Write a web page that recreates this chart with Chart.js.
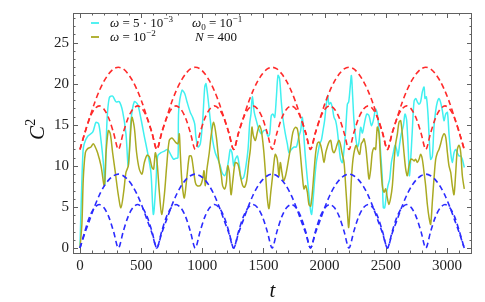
<!DOCTYPE html>
<html>
<head>
<meta charset="utf-8">
<script src="https://cdn.jsdelivr.net/npm/chart.js@4.4.1/dist/chart.umd.min.js"></script>
<style>
  html, body { margin: 0; padding: 0; background: #fff; }
  canvas { display: block; }
</style>
</head>
<body>
<canvas id="c2Chart" width="485" height="302"></canvas>
<script>
// tick labels
const xTicks = [0, 500, 1000, 1500, 2000, 2500, 3000];
const yTicks = [0, 5, 10, 15, 20, 25];

// omega = 5e-3 (cyan)
const tCyan = [0, 12, 25, 35, 63, 104, 131, 153, 172, 191, 204, 221, 240, 267, 294, 322, 349, 376, 395, 417,
  444, 471, 499, 526, 553, 580, 600, 621, 635, 662, 690, 717, 744, 766, 780, 801, 807, 834, 856, 875,
  902, 921, 938, 948, 965, 984, 1003, 1020, 1030, 1047, 1066, 1085, 1106, 1128, 1147, 1161, 1183, 1202, 1216, 1229,
  1243, 1257, 1270, 1287, 1303, 1319, 1338, 1357, 1374, 1387, 1398, 1409, 1425, 1442, 1461, 1483, 1502, 1521, 1537, 1551,
  1564, 1578, 1592, 1605, 1619, 1632, 1646, 1660, 1679, 1695, 1709, 1728, 1750, 1769, 1788, 1804, 1818, 1829, 1842, 1859,
  1872, 1886, 1894, 1905, 1919, 1932, 1946, 1960, 1973, 1987, 2000, 2014, 2025, 2036, 2050, 2063, 2077, 2090, 2104, 2118,
  2131, 2145, 2159, 2172, 2186, 2197, 2208, 2219, 2229, 2240, 2254, 2268, 2279, 2295, 2309, 2322, 2344, 2363, 2382, 2398,
  2417, 2431, 2445, 2458, 2472, 2480, 2491, 2505, 2518, 2532, 2546, 2562, 2576, 2589, 2600, 2614, 2627, 2644, 2657, 2671,
  2685, 2693, 2704, 2717, 2731, 2745, 2758, 2772, 2785, 2799, 2813, 2821, 2832, 2845, 2856, 2867, 2881, 2894, 2908, 2922,
  2935, 2949, 2963, 2976, 2990, 3004, 3017, 3031, 3044, 3058, 3072, 3085, 3099, 3113, 3126, 3142];
const cyanVals = [0, 6.5, 11.8, 12.7, 13.6, 14.1, 15.3, 15.1, 13.1, 10.4, 7.8, 15.5, 18.3, 18.5, 17.8, 17.8, 16.6, 13.9, 10.0, 15.5,
  17.8, 17.5, 15.7, 13.6, 11.6, 9.2, 4.1, 7.8, 11.2, 11.6, 11.8, 12.0, 11.3, 10.8, 10.9, 11.0, 16.7, 19.2, 18.8, 17.8,
  16.5, 15.9, 15.1, 13.5, 12.3, 12.7, 15.5, 19.6, 20.0, 18.2, 15.5, 13.1, 11.6, 10.8, 10.0, 9.2, 8.8, 9.6, 10.8, 12.0,
  11.6, 10.0, 10.8, 11.2, 10.0, 8.4, 8.6, 10.0, 12.0, 15.1, 16.3, 18.4, 16.5, 15.5, 14.5, 13.9, 14.3, 14.3, 13.6, 13.9,
  16.1, 16.3, 15.9, 18.2, 21.0, 20.6, 17.8, 15.7, 13.9, 12.7, 11.6, 12.0, 12.3, 12.3, 13.5, 14.3, 15.9, 13.9, 11.2, 8.4,
  6.5, 4.5, 4.1, 5.7, 8.4, 10.4, 11.6, 12.7, 13.1, 14.3, 15.5, 17.5, 18.6, 17.5, 17.7, 17.1, 15.9, 15.5, 14.3, 12.3,
  10.8, 10.4, 12.0, 14.3, 17.5, 17.8, 19.4, 21.0, 18.6, 15.5, 13.5, 12.3, 12.7, 14.7, 14.0, 14.9, 16.3, 16.1, 14.9, 15.5,
  16.9, 16.3, 14.3, 11.6, 8.4, 4.9, 4.9, 6.5, 7.6, 8.4, 10.4, 11.6, 12.5, 12.0, 11.2, 12.7, 13.9, 14.9, 16.3, 15.5,
  11.6, 8.8, 10.8, 14.3, 17.8, 18.2, 17.8, 17.5, 17.8, 19.0, 19.6, 18.2, 18.4, 16.3, 13.1, 10.8, 11.2, 14.7, 16.7, 17.8,
  18.2, 17.7, 16.7, 15.5, 16.3, 16.5, 13.9, 11.6, 10.4, 11.6, 12.0, 11.6, 11.2, 11.2, 10.8, 9.8];

// omega = 1e-2 (olive)
const tOlive = [0, 16, 27, 44, 63, 90, 109, 125, 144, 172, 199, 213, 232, 248, 267, 289, 313, 335, 357, 376,
  395, 412, 425, 444, 463, 485, 507, 526, 548, 567, 589, 602, 616, 630, 649, 668, 690, 709, 730, 752,
  780, 801, 812, 820, 834, 853, 875, 894, 910, 924, 943, 957, 984, 1003, 1014, 1025, 1038, 1057, 1074, 1093,
  1115, 1134, 1156, 1166, 1183, 1197, 1208, 1221, 1235, 1251, 1270, 1292, 1311, 1330, 1346, 1363, 1379, 1393, 1406, 1417,
  1434, 1450, 1467, 1483, 1502, 1516, 1532, 1545, 1560, 1575, 1586, 1597, 1613, 1627, 1638, 1651, 1665, 1681, 1701, 1722,
  1741, 1761, 1777, 1791, 1801, 1818, 1831, 1845, 1859, 1872, 1886, 1900, 1913, 1927, 1940, 1954, 1968, 1981, 1995, 2009,
  2022, 2036, 2050, 2063, 2077, 2090, 2104, 2118, 2131, 2142, 2159, 2172, 2186, 2197, 2208, 2219, 2232, 2246, 2259, 2273,
  2287, 2300, 2314, 2322, 2336, 2349, 2363, 2377, 2390, 2404, 2417, 2431, 2445, 2458, 2472, 2486, 2499, 2513, 2526, 2540,
  2554, 2567, 2581, 2595, 2608, 2622, 2635, 2649, 2663, 2676, 2690, 2704, 2717, 2731, 2745, 2758, 2772, 2785, 2799, 2813,
  2826, 2840, 2854, 2867, 2881, 2894, 2908, 2922, 2935, 2949, 2963, 2976, 2990, 3004, 3017, 3031, 3044, 3058, 3072, 3085,
  3099, 3113, 3126, 3142];
const oliveVals = [0, 3.0, 8.4, 11.6, 12.1, 12.3, 12.7, 12.3, 11.6, 10.0, 7.6, 11.6, 14.3, 13.9, 11.6, 9.2, 6.5, 4.9, 6.8, 9.2,
  10.0, 13.6, 15.9, 14.7, 11.6, 9.6, 9.0, 10.4, 11.3, 11.1, 9.8, 9.6, 11.6, 10.5, 6.8, 4.1, 6.5, 10.0, 13.1, 13.4,
  12.9, 12.7, 13.9, 11.6, 8.0, 6.1, 8.8, 11.2, 11.2, 10.0, 8.0, 7.6, 7.6, 8.4, 9.4, 7.6, 9.6, 11.6, 13.9, 15.3,
  13.5, 10.8, 8.8, 7.6, 7.2, 8.0, 10.0, 9.2, 6.5, 8.4, 10.4, 10.2, 8.8, 7.6, 7.4, 8.2, 10.4, 12.0, 14.7, 13.7,
  13.1, 14.1, 14.9, 14.3, 11.9, 9.2, 6.0, 4.8, 6.8, 8.8, 10.4, 11.4, 10.8, 8.8, 10.4, 9.2, 8.2, 8.8, 10.4, 12.3,
  14.1, 14.7, 14.5, 13.1, 11.6, 8.8, 7.2, 7.6, 6.8, 5.3, 5.1, 6.8, 9.2, 11.6, 12.7, 12.9, 12.5, 11.6, 10.4, 11.6,
  12.3, 12.9, 13.1, 12.0, 11.6, 12.0, 12.7, 13.1, 12.5, 11.6, 10.4, 7.6, 4.5, 2.5, 4.9, 8.4, 10.8, 12.0, 12.5, 11.8,
  11.4, 12.7, 13.0, 13.3, 12.3, 10.4, 8.4, 9.6, 11.6, 12.2, 12.0, 14.7, 13.9, 10.4, 7.6, 6.8, 7.2, 6.1, 5.3, 6.1,
  7.6, 10.4, 12.7, 13.9, 15.3, 15.5, 13.9, 11.6, 9.6, 8.8, 10.0, 10.8, 10.8, 10.6, 10.8, 10.4, 10.8, 11.4, 10.8, 9.2,
  7.6, 5.3, 3.7, 2.9, 5.7, 8.4, 10.8, 11.6, 12.0, 12.7, 13.5, 13.9, 13.5, 11.6, 10.0, 9.2, 7.6, 6.5, 9.2, 12.0,
  12.5, 11.6, 8.8, 7.2];

// dashed envelopes, sampled every ~39.3 in t
const tDash = [0, 39.3, 78.5, 117.8, 157.1, 196.3, 235.6, 274.9, 314.2, 353.4, 392.7, 432, 471.2, 510.5, 549.8, 589,
  628.3, 667.6, 706.9, 746.1, 785.4, 824.7, 863.9, 903.2, 942.5, 981.7, 1021, 1060.3, 1099.6, 1138.8, 1178.1, 1217.4,
  1256.6, 1295.9, 1335.2, 1374.4, 1413.7, 1453, 1492.3, 1531.5, 1570.8, 1610.1, 1649.3, 1688.6, 1727.9, 1767.1, 1806.4, 1845.7,
  1885, 1924.2, 1963.5, 2002.8, 2042, 2081.3, 2120.6, 2159.8, 2199.1, 2238.4, 2277.7, 2316.9, 2356.2, 2395.5, 2434.7, 2474,
  2513.3, 2552.5, 2591.8, 2631.1, 2670.4, 2709.6, 2748.9, 2788.2, 2827.4, 2866.7, 2906, 2945.2, 2984.5, 3023.8, 3063.1, 3102.3,
  3141.6];
const redOuter = [12, 14, 15.8, 17.6, 19.1, 20.3, 21.2, 21.8, 22, 21.8, 21.2, 20.3, 19.1, 17.6, 15.8, 14,
  12, 14, 15.8, 17.6, 19.1, 20.3, 21.2, 21.8, 22, 21.8, 21.2, 20.3, 19.1, 17.6, 15.8, 14,
  12, 14, 15.8, 17.6, 19.1, 20.3, 21.2, 21.8, 22, 21.8, 21.2, 20.3, 19.1, 17.6, 15.8, 14,
  12, 14, 15.8, 17.6, 19.1, 20.3, 21.2, 21.8, 22, 21.8, 21.2, 20.3, 19.1, 17.6, 15.8, 14,
  12, 14, 15.8, 17.6, 19.1, 20.3, 21.2, 21.8, 22, 21.8, 21.2, 20.3, 19.1, 17.6, 15.8, 14, 12];
const redInner = [12, 14, 15.8, 16.9, 17.3, 16.9, 15.8, 14, 12, 14, 15.8, 16.9, 17.3, 16.9, 15.8, 14,
  12, 14, 15.8, 16.9, 17.3, 16.9, 15.8, 14, 12, 14, 15.8, 16.9, 17.3, 16.9, 15.8, 14,
  12, 14, 15.8, 16.9, 17.3, 16.9, 15.8, 14, 12, 14, 15.8, 16.9, 17.3, 16.9, 15.8, 14,
  12, 14, 15.8, 16.9, 17.3, 16.9, 15.8, 14, 12, 14, 15.8, 16.9, 17.3, 16.9, 15.8, 14,
  12, 14, 15.8, 16.9, 17.3, 16.9, 15.8, 14, 12, 14, 15.8, 16.9, 17.3, 16.9, 15.8, 14, 12];
const blueOuter = [0, 1.8, 3.4, 5, 6.4, 7.5, 8.3, 8.8, 9, 8.8, 8.3, 7.5, 6.4, 5, 3.4, 1.8,
  0, 1.8, 3.4, 5, 6.4, 7.5, 8.3, 8.8, 9, 8.8, 8.3, 7.5, 6.4, 5, 3.4, 1.8,
  0, 1.8, 3.4, 5, 6.4, 7.5, 8.3, 8.8, 9, 8.8, 8.3, 7.5, 6.4, 5, 3.4, 1.8,
  0, 1.8, 3.4, 5, 6.4, 7.5, 8.3, 8.8, 9, 8.8, 8.3, 7.5, 6.4, 5, 3.4, 1.8,
  0, 1.8, 3.4, 5, 6.4, 7.5, 8.3, 8.8, 9, 8.8, 8.3, 7.5, 6.4, 5, 3.4, 1.8, 0];
const blueInner = [0, 2, 3.8, 4.9, 5.3, 4.9, 3.8, 2, 0, 2, 3.8, 4.9, 5.3, 4.9, 3.8, 2,
  0, 2, 3.8, 4.9, 5.3, 4.9, 3.8, 2, 0, 2, 3.8, 4.9, 5.3, 4.9, 3.8, 2,
  0, 2, 3.8, 4.9, 5.3, 4.9, 3.8, 2, 0, 2, 3.8, 4.9, 5.3, 4.9, 3.8, 2,
  0, 2, 3.8, 4.9, 5.3, 4.9, 3.8, 2, 0, 2, 3.8, 4.9, 5.3, 4.9, 3.8, 2,
  0, 2, 3.8, 4.9, 5.3, 4.9, 3.8, 2, 0, 2, 3.8, 4.9, 5.3, 4.9, 3.8, 2, 0];

const SERIF = "'Liberation Serif', 'DejaVu Serif', serif";

function pairs(xs, ys) {
  return xs.map((x, i) => ({ x: x, y: ys[i] }));
}

function dashed(vals, color) {
  return {
    data: pairs(tDash, vals),
    borderColor: color,
    borderWidth: 1.6,
    borderDash: [5.5, 3.5],
    pointRadius: 0,
    tension: 0.3,
  };
}

// draw a line of text made of runs: [text, style] with style '', 'i', 'sup', 'sub'
function drawRuns(ctx, x, y, runs, size) {
  ctx.textBaseline = "alphabetic";
  ctx.textAlign = "left";
  runs.forEach(([txt, st]) => {
    let fs = size, dy = 0, style = "";
    if (st === "i") style = "italic ";
    if (st === "sup") { fs = size * 0.7; dy = -size * 0.42; }
    if (st === "sub") { fs = size * 0.7; dy = size * 0.22; }
    ctx.font = style + fs + "px " + SERIF;
    ctx.fillText(txt, x, y + dy);
    x += ctx.measureText(txt).width;
  });
}

// frame with inward ticks, legend text and axis titles
const decorPlugin = {
  id: "decor",
  afterDatasetsDraw(chart) {
    const { ctx, chartArea: a, scales } = chart;
    const xs = scales.x, ys = scales.y;
    ctx.save();
    ctx.strokeStyle = "#606060";
    ctx.lineWidth = 1;
    ctx.strokeRect(a.left + 0.5, a.top + 0.5, a.right - a.left - 1, a.bottom - a.top);
    ctx.beginPath();
    for (let v = 0; v <= 3100; v += 100) {
      const px = Math.round(xs.getPixelForValue(v)) + 0.5;
      const len = v % 500 === 0 ? 5 : 2.5;
      ctx.moveTo(px, a.bottom); ctx.lineTo(px, a.bottom - len);
      ctx.moveTo(px, a.top); ctx.lineTo(px, a.top + len);
    }
    for (let v = 0; v <= 28; v += 1) {
      const py = Math.round(ys.getPixelForValue(v)) + 0.5;
      const len = v % 5 === 0 ? 5 : 2.5;
      ctx.moveTo(a.left, py); ctx.lineTo(a.left + len, py);
      ctx.moveTo(a.right, py); ctx.lineTo(a.right - len, py);
    }
    ctx.stroke();

    // legend
    ctx.lineWidth = 1.8;
    ctx.strokeStyle = "#40f0f0";
    ctx.beginPath(); ctx.moveTo(91, 23); ctx.lineTo(99, 23); ctx.stroke();
    ctx.strokeStyle = "#aaaa22";
    ctx.beginPath(); ctx.moveTo(91, 37); ctx.lineTo(99, 37); ctx.stroke();
    ctx.fillStyle = "#111";
    drawRuns(ctx, 110, 27, [["ω", "i"], [" = 5 · 10", ""], ["−3", "sup"]], 13);
    drawRuns(ctx, 110, 41, [["ω", "i"], [" = 10", ""], ["−2", "sup"]], 13);
    drawRuns(ctx, 192, 27, [["ω", "i"], ["0", "sub"], [" = 10", ""], ["−1", "sup"]], 13);
    drawRuns(ctx, 195, 41, [["N", "i"], [" = 400", ""]], 13);

    // axis titles
    ctx.font = "italic 21px " + SERIF;
    ctx.textAlign = "center";
    ctx.textBaseline = "alphabetic";
    ctx.fillText("t", (a.left + a.right) / 2, 297);
    ctx.save();
    ctx.translate(44, 140);
    ctx.rotate(-Math.PI / 2);
    drawRuns(ctx, 0, 0, [["C", "i"], ["2", "sup"]], 21);
    ctx.restore();
    ctx.restore();
  },
};

const ctx = document.getElementById("c2Chart").getContext("2d");
new Chart(ctx, {
  type: "line",
  data: {
    datasets: [
      dashed(blueInner, "#2b2bff"),
      dashed(blueOuter, "#2b2bff"),
      dashed(redInner, "#ff2a2a"),
      dashed(redOuter, "#ff2a2a"),
      {
        data: pairs(tOlive, oliveVals),
        borderColor: "#aaaa22",
        borderWidth: 1.5,
        pointRadius: 0,
        tension: 0.3,
      },
      {
        data: pairs(tCyan, cyanVals),
        borderColor: "#40f0f0",
        borderWidth: 1.5,
        pointRadius: 0,
        tension: 0.3,
      },
    ],
  },
  options: {
    responsive: false,
    animation: false,
    devicePixelRatio: 1,
    layout: { padding: { left: 0, right: 13, top: 5, bottom: 0 } },
    plugins: { legend: { display: false }, tooltip: { enabled: false } },
    scales: {
      x: {
        type: "linear",
        min: -57,
        max: 3205,
        grid: { display: false, drawTicks: false },
        border: { display: false },
        afterBuildTicks: (s) => { s.ticks = xTicks.map((v) => ({ value: v })); },
        afterFit: (s) => { s.height = 49; },
        ticks: { padding: 4, color: "#222", font: { family: SERIF, size: 15 }, maxRotation: 0,
          callback: (v) => String(v) },
      },
      y: {
        type: "linear",
        min: -0.6,
        max: 28.6,
        grid: { display: false, drawTicks: false },
        border: { display: false },
        afterBuildTicks: (s) => { s.ticks = yTicks.map((v) => ({ value: v })); },
        afterFit: (s) => { s.width = 73; },
        ticks: { padding: 4, color: "#222", font: { family: SERIF, size: 15 },
          callback: (v) => String(v) },
      },
    },
  },
  plugins: [decorPlugin],
});
</script>
</body>
</html>
